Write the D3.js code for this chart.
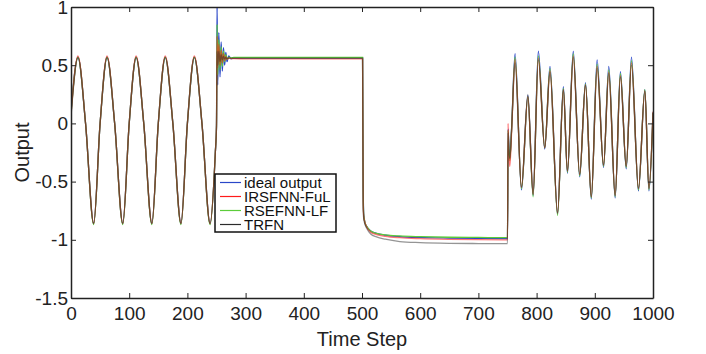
<!DOCTYPE html>
<html>
<head>
<meta charset="utf-8">
<script src="https://cdn.jsdelivr.net/npm/d3@7"></script>
<style>
  body { margin: 0; background: #fff; }
  svg { font-family: "Liberation Sans", Arial, sans-serif; }
</style>
</head>
<body>
<div class="container"></div>
<script>
// time steps (shared by all four series)
const timeSteps = [
  0, 12, 25, 39, 50, 62, 75, 89, 100, 112, 125, 139, 150, 162, 175, 189, 200, 212, 225, 239,
  248, 250, 251, 252, 254, 256, 258, 260, 262, 264, 266, 268, 271, 275, 280, 300, 400, 500,
  501, 502, 503, 505, 508, 515, 525, 540, 565, 600, 650, 700, 749, 750,
  751, 752, 754, 757, 763, 774, 785, 794, 803, 814, 823, 836, 846, 853, 863, 874, 884, 894,
  904, 915, 924, 935, 944, 954, 963, 975, 986, 993, 1000
];

const idealOutput = [
  0.10, 0.57, 0, -0.86, 0, 0.57, 0, -0.86, 0, 0.57, 0, -0.86, 0, 0.57, 0, -0.86, 0, 0.57, 0, -0.86,
  -0.25, -0.02, 1.02, 0.33, 0.78, 0.40, 0.70, 0.45, 0.65, 0.50, 0.61, 0.53, 0.58, 0.555, 0.562, 0.562, 0.562, 0.562,
  0.562, -0.55, -0.78, -0.85, -0.885, -0.925, -0.945, -0.96, -0.972, -0.98, -0.985, -0.988, -0.99, -0.99,
  -0.05, -0.15, -0.30, -0.05, 0.60, -0.57, 0.24, -0.62, 0.62, -0.22, 0.49, -0.78, 0.315, -0.43, 0.62, -0.46, 0.35, -0.65,
  0.545, -0.38, 0.49, -0.64, 0.445, -0.39, 0.57, -0.58, 0.29, -0.58, 0.09
];

const irsfnnFuL = [
  0.07, 0.58, 0, -0.86, 0, 0.58, 0, -0.86, 0, 0.58, 0, -0.86, 0, 0.58, 0, -0.86, 0, 0.58, 0, -0.86,
  -0.25, -0.02, 0.75, 0.48, 0.68, 0.50, 0.63, 0.52, 0.60, 0.54, 0.575, 0.55, 0.56, 0.556, 0.556, 0.555, 0.555, 0.555,
  0.555, -0.68, -0.80, -0.85, -0.89, -0.935, -0.955, -0.97, -0.982, -0.99, -0.996, -0.999, -1.0, -1.0,
  0.0, -0.22, -0.37, -0.08, 0.55, -0.55, 0.23, -0.61, 0.56, -0.21, 0.45, -0.77, 0.29, -0.41, 0.58, -0.44, 0.33, -0.63,
  0.49, -0.36, 0.44, -0.62, 0.41, -0.37, 0.52, -0.56, 0.28, -0.56, 0.10
];

const rsefnnLF = [
  0.08, 0.57, 0, -0.87, 0, 0.57, 0, -0.87, 0, 0.57, 0, -0.87, 0, 0.57, 0, -0.87, 0, 0.57, 0, -0.87,
  -0.25, -0.02, 0.85, 0.42, 0.72, 0.46, 0.66, 0.49, 0.62, 0.53, 0.59, 0.55, 0.57, 0.562, 0.566, 0.566, 0.566, 0.566,
  0.566, -0.62, -0.79, -0.85, -0.885, -0.925, -0.945, -0.958, -0.967, -0.973, -0.978, -0.98, -0.982, -0.982,
  -0.06, -0.18, -0.32, -0.06, 0.57, -0.56, 0.23, -0.63, 0.58, -0.21, 0.47, -0.79, 0.30, -0.42, 0.60, -0.45, 0.34, -0.64,
  0.51, -0.37, 0.46, -0.63, 0.43, -0.38, 0.54, -0.57, 0.29, -0.57, 0.09
];

const trfn = [
  0.06, 0.565, 0, -0.86, 0, 0.565, 0, -0.86, 0, 0.565, 0, -0.86, 0, 0.565, 0, -0.86, 0, 0.565, 0, -0.86,
  -0.25, -0.02, 0.62, 0.50, 0.62, 0.53, 0.59, 0.545, 0.575, 0.555, 0.565, 0.558, 0.562, 0.56, 0.56, 0.56, 0.56, 0.56,
  0.56, -0.74, -0.82, -0.865, -0.90, -0.95, -0.975, -0.995, -1.015, -1.024, -1.03, -1.032, -1.033, -1.033,
  -0.08, -0.20, -0.30, -0.05, 0.52, -0.55, 0.25, -0.61, 0.545, -0.21, 0.44, -0.77, 0.29, -0.41, 0.57, -0.44, 0.33, -0.63,
  0.475, -0.36, 0.43, -0.62, 0.40, -0.37, 0.50, -0.56, 0.28, -0.56, 0.10
];

const seriesNames = ["ideal output", "IRSFNN-FuL", "RSEFNN-LF", "TRFN"];
const seriesColors = ["#2a47c8", "#ff1a1a", "#5ccc3a", "#2b2b2b"];
const xTicks = [0, 100, 200, 300, 400, 500, 600, 700, 800, 900, 1000];
const yTicks = [-1.5, -1, -0.5, 0, 0.5, 1];

const WIDTH = 706, HEIGHT = 354;
const MARGIN = { left: 71, right: 53, top: 7, bottom: 56 };

const svg = d3.select(".container").append("svg")
  .attr("width", WIDTH)
  .attr("height", HEIGHT);

const x = d3.scaleLinear().domain([0, 1000]).range([MARGIN.left, WIDTH - MARGIN.right]);
const y = d3.scaleLinear().domain([-1.5, 1]).range([HEIGHT - MARGIN.bottom, MARGIN.top]);

svg.append("defs").append("clipPath").attr("id", "plot-clip")
  .append("rect")
  .attr("x", MARGIN.left)
  .attr("y", MARGIN.top)
  .attr("width", WIDTH - MARGIN.left - MARGIN.right)
  .attr("height", HEIGHT - MARGIN.top - MARGIN.bottom);

const seriesValues = [idealOutput, irsfnnFuL, rsefnnLF, trfn];

const line = d3.line()
  .x(d => x(d[0]))
  .y(d => y(d[1]))
  .curve(d3.curveMonotoneX);

// draw order: blue, green, red, black so the overlap blends to a brownish tone
const drawOrder = [0, 2, 1, 3];
const drawOpacity = [1, 0.6, 1, 0.5];
const lines = svg.append("g").attr("clip-path", "url(#plot-clip)");
drawOrder.forEach(i => {
  lines.append("path")
    .datum(timeSteps.map((t, j) => [t, seriesValues[i][j]]))
    .attr("fill", "none")
    .attr("stroke", seriesColors[i])
    .attr("stroke-width", 1.3)
    .attr("stroke-opacity", drawOpacity[i])
    .attr("d", line);
});

// axes (MATLAB style box with inward ticks)
const axisColor = "#222";
const styleAxis = g => {
  g.select(".domain").attr("stroke", axisColor).attr("stroke-width", 1.5);
  g.selectAll(".tick line").attr("stroke", axisColor).attr("stroke-width", 1);
  g.selectAll(".tick text").attr("fill", "#222").attr("font-size", 19)
    .attr("font-family", "'Liberation Sans', Arial, sans-serif");
};

svg.append("g")
  .attr("transform", `translate(0,${HEIGHT - MARGIN.bottom})`)
  .call(d3.axisBottom(x).tickValues(xTicks).tickSizeInner(-5).tickSizeOuter(0).tickPadding(9)
    .tickFormat(d => String(d)))
  .call(styleAxis);

svg.append("g")
  .attr("transform", `translate(0,${MARGIN.top})`)
  .call(d3.axisTop(x).tickValues(xTicks).tickSizeInner(-5).tickSizeOuter(0).tickFormat(""))
  .call(styleAxis);

svg.append("g")
  .attr("transform", `translate(${MARGIN.left},0)`)
  .call(d3.axisLeft(y).tickValues(yTicks).tickSizeInner(-5).tickSizeOuter(0).tickPadding(3)
    .tickFormat(d => String(d)))
  .call(styleAxis);

svg.append("g")
  .attr("transform", `translate(${WIDTH - MARGIN.right},0)`)
  .call(d3.axisRight(y).tickValues(yTicks).tickSizeInner(-5).tickSizeOuter(0).tickFormat(""))
  .call(styleAxis);

// axis labels
svg.append("text")
  .attr("x", (MARGIN.left + WIDTH - MARGIN.right) / 2)
  .attr("y", 346)
  .attr("text-anchor", "middle")
  .attr("font-size", 20)
  .attr("fill", "#222")
  .text("Time Step");

svg.append("text")
  .attr("transform", `translate(29,${(MARGIN.top + HEIGHT - MARGIN.bottom) / 2}) rotate(-90)`)
  .attr("text-anchor", "middle")
  .attr("font-size", 20)
  .attr("fill", "#222")
  .text("Output");

// legend
const legend = svg.append("g").attr("transform", "translate(215,174)");
legend.append("rect")
  .attr("width", 121)
  .attr("height", 58)
  .attr("fill", "#fff")
  .attr("stroke", "#111")
  .attr("stroke-width", 1.5);

seriesNames.forEach((name, i) => {
  const rowY = 8.5 + i * 14;
  legend.append("line")
    .attr("x1", 5).attr("x2", 26)
    .attr("y1", rowY).attr("y2", rowY)
    .attr("stroke", seriesColors[i])
    .attr("stroke-width", 1.2);
  legend.append("text")
    .attr("x", 29)
    .attr("y", rowY)
    .attr("dy", "0.35em")
    .attr("font-size", 15)
    .attr("fill", "#111")
    .text(name);
});
</script>
</body>
</html>
